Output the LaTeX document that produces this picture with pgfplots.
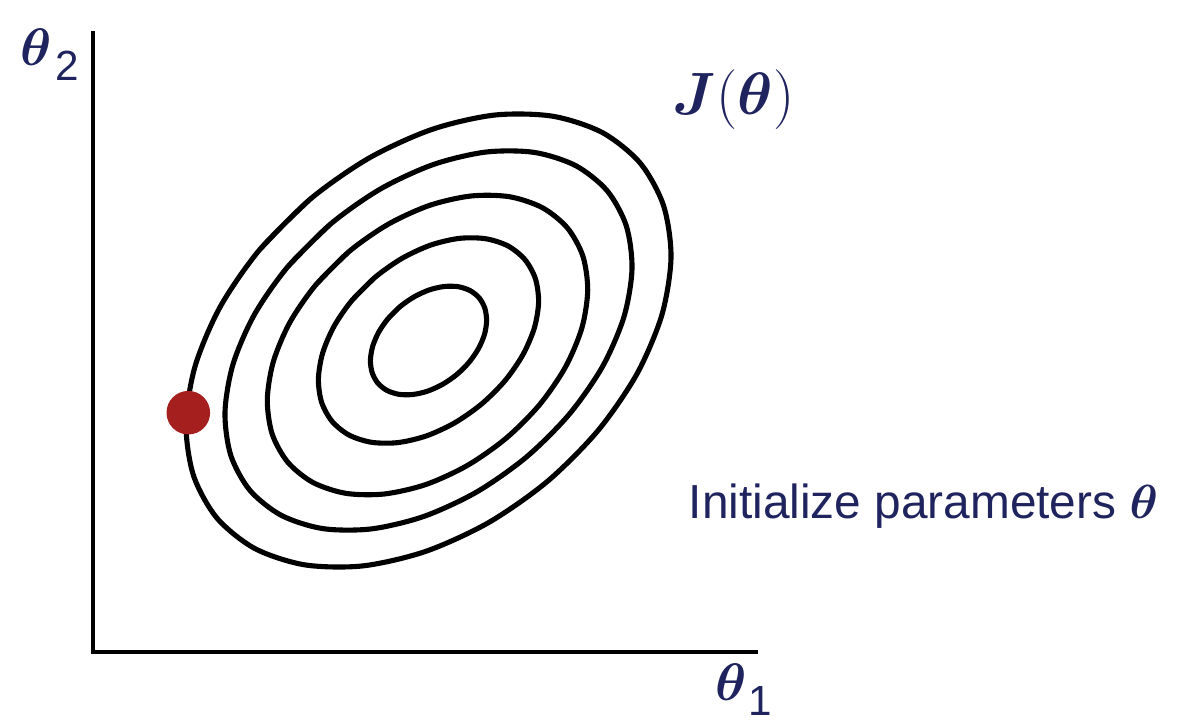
\documentclass[border=0pt]{standalone}
\usepackage{fix-cm}
\usepackage{fontspec}
\setmainfont{Liberation Sans}
\usepackage{bm}
\usepackage{pgfplots}
\pgfplotsset{compat=1.18}
\definecolor{navy}{RGB}{31,35,94}
\definecolor{dotred}{RGB}{166,31,31}
\begin{document}
\begin{tikzpicture}
\begin{axis}[width=11.96cm, height=7.21cm, scale only axis,
  xmin=0, xmax=1196, ymin=0, ymax=721, hide axis, clip=false]
\path (axis cs:0,0) rectangle (axis cs:1196,721);
% axes
\addplot[black, line width=1.2pt, line join=miter] coordinates {(93.3,690) (93.3,69) (758,69)};
% contours
\addplot[black, line width=1.45pt, smooth] coordinates {(400.1,414.4) (387.9,402.2) (378.5,388.5) (372.6,374.4) (370.4,360.6) (372.2,348.2) (377.8,337.9) (386.9,330.6) (398.8,326.7) (412.7,326.5) (427.7,329.9) (442.8,336.8) (456.9,346.6) (469.1,358.8) (478.5,372.5) (484.5,386.7) (486.6,400.4) (484.8,412.8) (479.2,423.1) (470.1,430.4) (458.2,434.3) (444.3,434.5) (429.3,431.1) (414.2,424.2) (400.1,414.4) (387.9,402.2)};
\addplot[black, line width=1.45pt, smooth] coordinates {(375.3,443.9) (352.1,420.8) (334.2,395.0) (322.7,368.1) (318.4,342.1) (321.6,318.7) (332.1,299.6) (349.1,285.9) (371.6,278.7) (397.9,278.4) (426.4,285.1) (454.9,298.3) (481.7,317.1) (504.9,340.2) (522.8,366.1) (534.3,392.9) (538.6,418.9) (535.4,442.3) (524.9,461.4) (507.9,475.1) (485.4,482.3) (459.1,482.6) (430.6,475.9) (402.1,462.7) (375.3,443.9) (352.1,420.8)};
\addplot[black, line width=1.45pt, smooth] coordinates {(349.1,469.5) (315.6,435.9) (289.7,398.3) (273.3,359.2) (267.3,321.2) (272.2,286.9) (287.8,258.8) (312.8,238.6) (345.7,227.7) (384.2,227.0) (425.6,236.4) (467.1,255.4) (505.9,282.6) (539.4,316.1) (565.3,353.7) (581.8,392.8) (587.7,430.8) (582.8,465.1) (567.2,493.3) (542.2,513.4) (509.3,524.3) (470.9,525.0) (429.5,515.6) (387.9,496.6) (349.1,469.5) (315.6,435.9)};
\addplot[black, line width=1.45pt, smooth] coordinates {(330.7,497.1) (287.8,454.3) (254.5,406.6) (233.1,357.0) (225.0,309.0) (230.7,265.9) (249.9,230.7) (281.4,205.6) (322.8,192.4) (371.4,192.1) (423.9,204.6) (476.8,229.1) (526.3,263.9) (569.2,306.7) (602.5,354.4) (623.9,404.0) (632.0,452.0) (626.3,495.1) (607.1,530.3) (575.6,555.4) (534.2,568.6) (485.6,568.9) (433.1,556.4) (380.2,531.9) (330.7,497.1) (287.8,454.3)};
\addplot[black, line width=1.45pt, smooth] coordinates {(310.0,521.7) (259.3,470.9) (220.1,414.0) (195.1,354.8) (186.0,297.3) (193.5,245.5) (216.9,203.0) (254.8,172.5) (304.5,156.2) (362.7,155.1) (425.3,169.5) (488.2,198.2) (547.0,239.3) (597.7,290.1) (636.9,347.0) (661.9,406.2) (671.0,463.7) (663.5,515.5) (640.1,558.0) (602.2,588.5) (552.5,604.8) (494.3,605.9) (431.7,591.5) (368.8,562.8) (310.0,521.7) (259.3,470.9)};
% initial point
\addplot[only marks, mark=*, mark size=6pt, color=dotred, mark options={draw=none, fill=dotred}] coordinates {(188.3,308.3)};
% labels
\node[anchor=base west, inner sep=0pt, text=navy] at (axis cs:20,655)
  {\fontsize{15}{18}\selectfont$\bm{\theta}$\hspace{1pt}\raisebox{-4pt}{\fontsize{12}{14}\selectfont 2}};
\node[anchor=base west, inner sep=0pt, text=navy] at (axis cs:715,21)
  {\fontsize{15}{18}\selectfont$\bm{\theta}$\hspace{0.3pt}\raisebox{-4.3pt}{\fontsize{12}{14}\selectfont 1}};
\node[anchor=base west, inner sep=0pt, text=navy] at (axis cs:672,606)
  {\fontsize{17}{20}\selectfont$\bm{J}(\bm{\theta})$};
\node[anchor=base west, inner sep=0pt, text=navy] at (axis cs:688,203)
  {\fontsize{13.6}{16}\selectfont Initialize parameters $\bm{\theta}$};
\end{axis}
\end{tikzpicture}
\end{document}
